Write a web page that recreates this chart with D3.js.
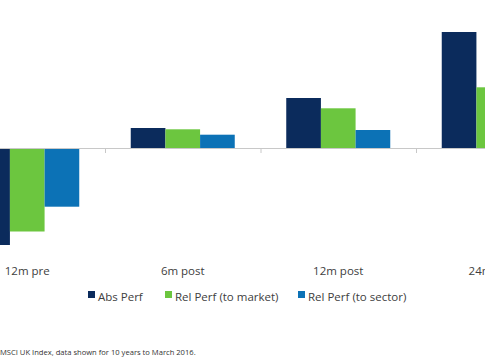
<!DOCTYPE html>
<html>
<head>
<meta charset="utf-8">
<script src="https://cdn.jsdelivr.net/npm/d3@7"></script>
<style>
  body { margin: 0; background: #fff; }
  svg { display: block; font-family: "Open Sans", sans-serif; }
</style>
</head>
<body>
<script>
// dados (unidades aproximadas, % de performance)
const categories = ['12m pre', '6m post', '12m post', '24m post'];
const seriesNames = ['Abs Perf', 'Rel Perf (to market)', 'Rel Perf (to sector)'];
const absPerf = [-9.7, 2.0, 5.0, 11.6];
const relMarket = [-8.35, 1.87, 3.97, 6.07];
const relSector = [-5.87, 1.33, 1.8, 3.0];
const colors = ['#0b2b5c', '#6cc63f', '#0c72b6'];

const width = 485, height = 360;

const svg = d3.select('body').append('svg')
  .attr('width', width)
  .attr('height', height);

// o gráfico original está recortado dos dois lados
const x0 = d3.scaleBand()
  .domain(categories)
  .range([-50.5, 571.5]);

const x1 = d3.scaleBand()
  .domain(seriesNames)
  .range([0, 104]);

const groupOffset = (x0.bandwidth() - 104) / 2;

const y = d3.scaleLinear()
  .domain([-10, 14])
  .range([248, 8]);

const rows = categories.map((c, i) => ({
  cat: c,
  values: [absPerf[i], relMarket[i], relSector[i]]
}));

const groups = svg.append('g').selectAll('g')
  .data(rows)
  .join('g')
  .attr('transform', d => `translate(${x0(d.cat) + groupOffset},0)`);

groups.selectAll('rect')
  .data(d => d.values.map((v, k) => ({ name: seriesNames[k], v, k })))
  .join('rect')
  .attr('x', d => x1(d.name))
  .attr('width', x1.bandwidth())
  .attr('y', d => y(Math.max(0, d.v)))
  .attr('height', d => Math.abs(y(d.v) - y(0)))
  .attr('fill', d => colors[d.k]);

// eixo no zero
const axis = svg.append('g')
  .attr('transform', `translate(0,${y(0)})`)
  .call(d3.axisBottom(x0).tickSize(0).tickFormat(''));
axis.select('.domain').attr('stroke', '#c8c8c8').attr('d', `M0,0.5H${width}`);

svg.append('g').selectAll('line')
  .data(categories.slice(1))
  .join('line')
  .attr('x1', d => x0(d) + 0.5)
  .attr('x2', d => x0(d) + 0.5)
  .attr('y1', y(0))
  .attr('y2', y(0) + 5)
  .attr('stroke', '#c8c8c8');

svg.append('g').selectAll('text')
  .data(categories)
  .join('text')
  .attr('x', d => x0(d) + x0.bandwidth() / 2)
  .attr('y', 275)
  .attr('text-anchor', 'middle')
  .attr('font-size', 11.5)
  .attr('fill', '#404040')
  .text(d => d);

// legenda
const legendX = [88, 165, 298];
const legend = svg.append('g').selectAll('g')
  .data(seriesNames)
  .join('g')
  .attr('transform', (d, i) => `translate(${legendX[i]},297)`);
legend.append('rect')
  .attr('x', 0).attr('y', -6)
  .attr('width', 7).attr('height', 7)
  .attr('fill', (d, i) => colors[i]);
legend.append('text')
  .attr('x', 10).attr('y', 4)
  .attr('font-size', 11.5)
  .attr('fill', '#404040')
  .text(d => d);

svg.append('text')
  .attr('x', 0).attr('y', 355)
  .attr('font-size', 7.6)
  .attr('fill', '#333')
  .text('MSCI UK Index, data shown for 10 years to March 2016.');
</script>
</body>
</html>
